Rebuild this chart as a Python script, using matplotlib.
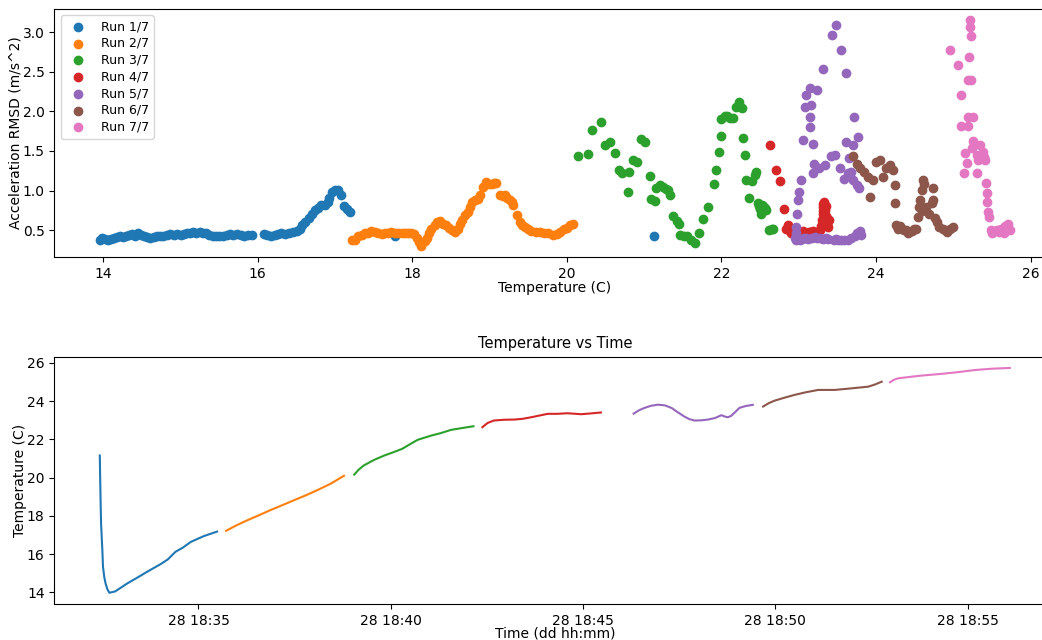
import matplotlib
matplotlib.use("Agg")
import matplotlib.pyplot as plt
import matplotlib.dates as mdates
import pandas as pd

plt.rcParams["axes.labelpad"] = 0.0

# --- acceleration RMSD vs temperature, one list pair per run ---
run1_temp = [13.96, 13.99, 14.03, 14.07, 14.10, 14.14, 14.18, 14.22, 14.26, 14.30, 14.34, 14.38,
             14.42, 14.45, 14.49, 14.53, 14.57, 14.61, 14.66, 14.70, 14.74, 14.78, 14.83, 14.87,
             14.92, 14.96, 15.01, 15.05, 15.09, 15.13, 15.17, 15.21, 15.25, 15.29, 15.33, 15.37,
             15.42, 15.46, 15.50, 15.55, 15.60, 15.64, 15.68, 15.73, 15.78, 15.83, 15.88, 15.93,
             16.08, 16.12, 16.17, 16.22, 16.26, 16.31, 16.36, 16.41, 16.46, 16.51, 16.55, 16.58,
             16.62, 16.66, 16.70, 16.74, 16.78, 16.82, 16.87, 16.91, 16.93, 16.96, 17.00, 17.04,
             17.08, 17.12, 17.16, 17.19, 17.78, 21.13]
run1_rmsd = [0.38, 0.40, 0.39, 0.38, 0.39, 0.40, 0.41, 0.42, 0.41, 0.43, 0.44, 0.45,
             0.43, 0.46, 0.44, 0.43, 0.41, 0.40, 0.41, 0.42, 0.43, 0.42, 0.44, 0.45,
             0.44, 0.45, 0.44, 0.45, 0.46, 0.47, 0.48, 0.47, 0.48, 0.47, 0.46, 0.44,
             0.43, 0.42, 0.43, 0.42, 0.44, 0.45, 0.44, 0.45, 0.44, 0.43, 0.44, 0.44,
             0.45, 0.44, 0.43, 0.44, 0.45, 0.46, 0.45, 0.47, 0.48, 0.49, 0.52, 0.56,
             0.60, 0.65, 0.71, 0.75, 0.78, 0.82, 0.82, 0.85, 0.91, 0.98, 1.01, 1.01,
             0.94, 0.80, 0.77, 0.73, 0.43, 0.42]

run2_temp = [17.22, 17.26, 17.30, 17.35, 17.39, 17.43, 17.47, 17.52, 17.56, 17.61, 17.65, 17.69,
             17.73, 17.78, 17.82, 17.87, 17.91, 17.95, 17.99, 18.03, 18.06, 18.09, 18.12, 18.16,
             18.19, 18.22, 18.25, 18.29, 18.32, 18.36, 18.40, 18.44, 18.48, 18.52, 18.55, 18.59,
             18.62, 18.65, 18.68, 18.72, 18.75, 18.78, 18.81, 18.85, 18.88, 18.92, 18.96, 19.00,
             19.03, 19.06, 19.09, 19.13, 19.17, 19.20, 19.23, 19.26, 19.29, 19.31, 19.35, 19.39,
             19.42, 19.46, 19.50, 19.54, 19.60, 19.65, 19.70, 19.76, 19.82, 19.87, 19.91, 19.96,
             20.00, 20.04, 20.08]
run2_rmsd = [0.38, 0.38, 0.42, 0.44, 0.46, 0.47, 0.49, 0.48, 0.47, 0.45, 0.46, 0.47,
             0.48, 0.46, 0.47, 0.46, 0.46, 0.47, 0.46, 0.45, 0.40, 0.35, 0.30, 0.36,
             0.40, 0.46, 0.52, 0.57, 0.60, 0.61, 0.58, 0.56, 0.53, 0.50, 0.48, 0.52,
             0.58, 0.63, 0.69, 0.73, 0.79, 0.85, 0.88, 0.89, 0.95, 1.05, 1.11, 1.08,
             1.08, 1.10, 1.09, 0.94, 0.93, 0.94, 0.90, 0.88, 0.85, 0.82, 0.69, 0.60,
             0.57, 0.54, 0.51, 0.49, 0.48, 0.48, 0.47, 0.46, 0.44, 0.45, 0.48, 0.51,
             0.53, 0.56, 0.58]

run3_temp = [20.15, 20.28, 20.33, 20.44, 20.50, 20.56, 20.62, 20.68, 20.71, 20.79, 20.81, 20.86,
             20.91, 20.96, 21.01, 21.07, 21.09, 21.14, 21.16, 21.20, 21.25, 21.28, 21.31, 21.33,
             21.38, 21.42, 21.45, 21.47, 21.51, 21.55, 21.60, 21.66, 21.71, 21.76, 21.83, 21.90,
             21.93, 21.97, 21.99, 22.00, 22.04, 22.07, 22.11, 22.15, 22.19, 22.23, 22.26, 22.28,
             22.30, 22.32, 22.36, 22.40, 22.43, 22.45, 22.47, 22.48, 22.50, 22.51, 22.52, 22.53,
             22.54, 22.56, 22.58, 22.62, 22.65, 22.67]
run3_rmsd = [1.43, 1.46, 1.76, 1.87, 1.57, 1.61, 1.48, 1.26, 1.22, 0.98, 1.24, 1.38,
             1.36, 1.65, 1.61, 1.18, 0.89, 0.87, 1.03, 1.07, 1.05, 1.02, 1.01, 0.94,
             0.68, 0.62, 0.58, 0.44, 0.42, 0.42, 0.38, 0.34, 0.47, 0.64, 0.79, 1.08,
             1.26, 1.49, 1.69, 1.90, 1.94, 1.94, 1.92, 1.92, 2.06, 2.12, 2.04, 1.66,
             1.45, 1.13, 0.90, 1.12, 1.19, 1.24, 0.84, 0.80, 0.77, 0.71, 0.82, 0.76,
             0.80, 0.78, 0.75, 0.50, 0.51, 0.51]

run4_temp = [22.63, 22.71, 22.76, 22.81, 22.84, 22.86, 22.88, 22.90, 22.91, 22.93, 22.95, 22.97,
             23.01, 23.04, 23.06, 23.10, 23.13, 23.15, 23.19, 23.22, 23.23, 23.27, 23.29, 23.30,
             23.31, 23.31, 23.32, 23.32, 23.33, 23.34, 23.35, 23.35, 23.36, 23.37, 23.38, 23.39]
run4_rmsd = [1.57, 1.26, 1.12, 0.77, 0.52, 0.56, 0.50, 0.47, 0.48, 0.46, 0.48, 0.50,
             0.48, 0.47, 0.49, 0.47, 0.48, 0.48, 0.49, 0.47, 0.48, 0.50, 0.55, 0.63,
             0.71, 0.79, 0.83, 0.74, 0.86, 0.76, 0.68, 0.81, 0.65, 0.58, 0.54, 0.63]

run5_temp = [22.95, 22.96, 22.97, 22.97, 22.98, 22.99, 23.00, 23.01, 23.03, 23.04, 23.06, 23.07,
             23.08, 23.10, 23.10, 23.12, 23.14, 23.15, 23.15, 23.16, 23.17, 23.19, 23.19, 23.20,
             23.21, 23.23, 23.23, 23.26, 23.27, 23.31, 23.32, 23.34, 23.35, 23.38, 23.42, 23.43,
             23.45, 23.47, 23.48, 23.48, 23.51, 23.53, 23.55, 23.55, 23.58, 23.59, 23.61, 23.61,
             23.64, 23.64, 23.65, 23.67, 23.67, 23.70, 23.70, 23.72, 23.73, 23.75, 23.75, 23.76,
             23.78, 23.79, 23.81]
run5_rmsd = [0.40, 0.37, 0.54, 0.47, 0.71, 0.88, 0.98, 0.37, 1.13, 0.39, 1.64, 0.40,
             2.06, 2.20, 0.40, 0.39, 2.29, 1.93, 1.80, 2.08, 0.40, 1.59, 1.22, 1.34,
             0.41, 2.27, 0.40, 1.28, 0.40, 2.54, 0.39, 1.32, 0.40, 0.39, 1.43, 2.96,
             0.38, 1.45, 3.09, 0.39, 0.38, 1.28, 2.77, 0.37, 0.37, 1.15, 2.48, 1.61,
             1.22, 0.38, 1.41, 1.24, 0.40, 1.57, 1.13, 1.93, 0.43, 1.07, 0.46, 1.68,
             1.03, 0.49, 0.44]

run6_temp = [23.70, 23.75, 23.79, 23.85, 23.90, 23.92, 23.96, 24.00, 24.05, 24.09, 24.13, 24.18,
             24.22, 24.24, 24.25, 24.26, 24.28, 24.29, 24.31, 24.33, 24.36, 24.39, 24.41, 24.43,
             24.46, 24.49, 24.52, 24.54, 24.56, 24.57, 24.59, 24.60, 24.61, 24.62, 24.65, 24.69,
             24.72, 24.74, 24.74, 24.76, 24.79, 24.82, 24.86, 24.89, 24.92, 24.95, 24.99]
run6_rmsd = [1.43, 1.34, 1.28, 1.24, 1.17, 0.92, 1.13, 1.36, 1.38, 1.17, 1.28, 1.32,
             1.26, 1.07, 0.84, 0.56, 0.52, 0.53, 0.55, 0.52, 0.50, 0.50, 0.47, 0.48,
             0.49, 0.51, 0.52, 0.67, 0.79, 0.88, 0.74, 1.01, 1.13, 1.08, 0.79, 0.71,
             0.84, 1.03, 0.88, 0.65, 0.60, 0.54, 0.52, 0.50, 0.48, 0.52, 0.54]

run7_temp = [24.96, 25.06, 25.10, 25.10, 25.14, 25.15, 25.17, 25.19, 25.19, 25.19, 25.20, 25.21,
             25.22, 25.23, 25.23, 25.24, 25.25, 25.26, 25.30, 25.30, 25.32, 25.34, 25.38, 25.39,
             25.41, 25.42, 25.43, 25.43, 25.45, 25.46, 25.48, 25.50, 25.52, 25.56, 25.59, 25.62,
             25.65, 25.67, 25.69, 25.70, 25.73]
run7_rmsd = [2.78, 2.58, 2.20, 1.81, 1.22, 1.47, 1.35, 2.39, 1.93, 1.81, 2.68, 3.07,
             3.15, 2.95, 2.39, 1.54, 1.93, 1.63, 1.45, 1.22, 1.38, 1.57, 1.49, 1.42,
             1.38, 1.09, 0.97, 0.86, 0.73, 0.67, 0.50, 0.47, 0.49, 0.50, 0.48, 0.52,
             0.47, 0.55, 0.54, 0.58, 0.50]

# --- temperature vs time, one list pair per run ---
day = "2023-06-28"
run1_time = ["18:32:26", "18:32:27", "18:32:28", "18:32:30", "18:32:31", "18:32:33", "18:32:35",
             "18:32:38", "18:32:41", "18:32:50", "18:33:09", "18:33:25", "18:33:40", "18:34:01",
             "18:34:12", "18:34:24", "18:34:36", "18:34:48", "18:35:08", "18:35:29"]
run1_line = [21.16, 19.2, 17.6, 16.2, 15.34, 14.8, 14.47, 14.15, 13.98, 14.05, 14.47, 14.78,
             15.08, 15.48, 15.72, 16.12, 16.35, 16.64, 16.94, 17.18]
run2_time = ["18:35:43", "18:36:00", "18:36:16", "18:36:34", "18:36:52", "18:37:10", "18:37:29",
             "18:37:47", "18:38:05", "18:38:26", "18:38:47"]
run2_line = [17.22, 17.52, 17.77, 18.03, 18.30, 18.55, 18.82, 19.07, 19.34, 19.68, 20.10]
run3_time = ["18:39:03", "18:39:10", "18:39:18", "18:39:34", "18:39:50", "18:40:04", "18:40:18",
             "18:40:30", "18:40:42", "18:41:03", "18:41:18", "18:41:34", "18:41:52", "18:42:09"]
run3_line = [20.16, 20.42, 20.64, 20.93, 21.16, 21.33, 21.51, 21.75, 21.98, 22.20, 22.33, 22.50,
             22.60, 22.69]
run4_time = ["18:42:23", "18:42:31", "18:42:41", "18:42:57", "18:43:13", "18:43:26", "18:43:39",
             "18:43:52", "18:44:05", "18:44:20", "18:44:36", "18:44:57", "18:45:12", "18:45:28"]
run4_line = [22.64, 22.86, 22.99, 23.03, 23.04, 23.08, 23.16, 23.25, 23.34, 23.34, 23.37, 23.32,
             23.36, 23.41]
run5_time = ["18:46:19", "18:46:27", "18:46:36", "18:46:46", "18:46:57", "18:47:08", "18:47:18",
             "18:47:28", "18:47:38", "18:47:46", "18:47:54", "18:48:05", "18:48:15", "18:48:26",
             "18:48:36", "18:48:41", "18:48:46", "18:48:51", "18:48:58", "18:49:04", "18:49:14",
             "18:49:25"]
run5_line = [23.35, 23.52, 23.65, 23.76, 23.82, 23.78, 23.65, 23.42, 23.20, 23.06, 22.99, 23.00,
             23.04, 23.12, 23.27, 23.20, 23.16, 23.23, 23.45, 23.65, 23.75, 23.81]
run6_time = ["18:49:41", "18:49:50", "18:49:59", "18:50:14", "18:50:30", "18:50:48", "18:51:07",
             "18:51:33", "18:51:58", "18:52:25", "18:52:36", "18:52:46"]
run6_line = [23.72, 23.90, 24.03, 24.18, 24.33, 24.47, 24.59, 24.59, 24.67, 24.76, 24.88, 25.02]
run7_time = ["18:52:59", "18:53:05", "18:53:12", "18:53:45", "18:54:19", "18:54:45", "18:55:11",
             "18:55:38", "18:56:06"]
run7_line = [24.99, 25.12, 25.20, 25.33, 25.43, 25.52, 25.63, 25.70, 25.74]

labels = ["Run 1/7", "Run 2/7", "Run 3/7", "Run 4/7", "Run 5/7", "Run 6/7", "Run 7/7"]
scatter_data = [(run1_temp, run1_rmsd), (run2_temp, run2_rmsd), (run3_temp, run3_rmsd),
                (run4_temp, run4_rmsd), (run5_temp, run5_rmsd), (run6_temp, run6_rmsd),
                (run7_temp, run7_rmsd)]
line_data = [(run1_time, run1_line), (run2_time, run2_line), (run3_time, run3_line),
             (run4_time, run4_line), (run5_time, run5_line), (run6_time, run6_line),
             (run7_time, run7_line)]

fig = plt.figure(figsize=(10.42, 6.4), dpi=100)
# the original figure was wider than the saved image, so the axes run past the right edge
ax1 = fig.add_axes([0.0521, 0.598, 0.9607, 0.388])
ax2 = fig.add_axes([0.0521, 0.05625, 0.9607, 0.3864])

for (temp, rmsd), lab in zip(scatter_data, labels):
    ax1.scatter(temp, rmsd, label=lab)
ax1.set_xlabel("Temperature (C)")
ax1.set_ylabel("Acceleration RMSD (m/s^2)")
ax1.legend(loc="upper left", fontsize=9, labelspacing=0.3)

for times, temps in line_data:
    t = pd.to_datetime([day + " " + s for s in times])
    ax2.plot(t, temps)
ax2.set_title("Temperature vs Time", fontsize=10.5)
ax2.set_xlabel("Time (dd hh:mm)", labelpad=-1)
ax2.set_ylabel("Temperature (C)")
ax2.xaxis.set_major_locator(mdates.MinuteLocator(byminute=range(0, 60, 5)))
ax2.xaxis.set_major_formatter(mdates.DateFormatter("%d %H:%M"))

fig.savefig("out.png", dpi=100)
